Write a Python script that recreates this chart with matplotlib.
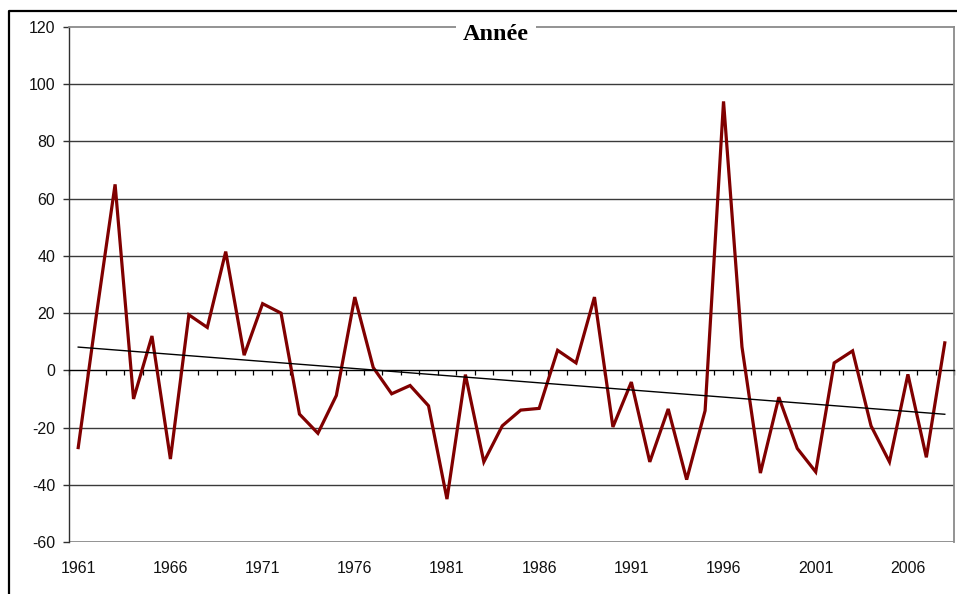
import numpy as np
import matplotlib
matplotlib.use("Agg")
import matplotlib.pyplot as plt
from matplotlib.lines import Line2D

years = list(range(1961, 2009))
values = [
    -27, 20, 65, -10, 12, -31, 19.4, 15, 41.5, 5.3,
    23.3, 20, -15.3, -22, -8.8, 25.6, 1, -8.2, -5.3, -12.4,
    -45, -1.5, -32, -19.4, -13.9, -13.3, 7, 2.6, 25.6, -19.8,
    -4.1, -32, -13.5, -38.2, -14.1, 94, 8.2, -35.9, -9.4, -27.3,
    -35.5, 2.6, 6.8, -19.4, -32, -1.4, -30.4, 9.6,
]
label_years = [1961, 1966, 1971, 1976, 1981, 1986, 1991, 1996, 2001, 2006]
y_ticks = list(range(-60, 121, 20))
title = "Année"

W, H = 957, 594
fig = plt.figure(figsize=(W / 100, H / 100), dpi=100)
fig.patch.set_facecolor("white")

L, R, T, B = 69, 954, 27, 542
ax = fig.add_axes([L / W, 1 - B / H, (R - L) / W, (B - T) / H])

x = np.arange(len(years))
ax.set_xlim(-0.5, len(years) - 0.5)
ax.set_ylim(-60, 120)

# horizontal gridlines
for v in y_ticks:
    if v in (-60, 0, 120):
        continue
    ax.axhline(v, color="#3a3a3a", lw=1.0, zorder=1)
ax.axhline(-60, color="#8a8a8a", lw=1.3, zorder=1)

# series and linear trend
ax.plot(x, values, color="#800000", lw=2.3, solid_joinstyle="miter", zorder=4)
coef = np.polyfit(x, values, 1)
ax.plot(x, np.polyval(coef, x), color="black", lw=1.0, zorder=5)

# spines
ax.spines["left"].set_color("#303030")
ax.spines["left"].set_linewidth(1.0)
for s in ("top", "right"):
    ax.spines[s].set_color("#8a8a8a")
    ax.spines[s].set_linewidth(1.3)
ax.spines["bottom"].set_position(("data", 0))
ax.spines["bottom"].set_color("black")
ax.spines["bottom"].set_linewidth(1.0)
ax.spines["bottom"].set_zorder(3)

# category ticks on the zero axis
ax.set_xticks(np.arange(-0.5, len(years), 1.0))
ax.set_xticklabels([])
ax.tick_params(axis="x", direction="out", length=3.5, width=0.9, color="black")

ax.set_yticks(y_ticks)
ax.set_yticklabels([str(v) for v in y_ticks], fontfamily="Liberation Sans",
                   fontsize=11.5, color="#111111")
ax.tick_params(axis="y", direction="out", length=4, width=1.0, color="#303030", pad=6)

# year labels along the bottom
sec = ax.secondary_xaxis("bottom")
sec.spines["bottom"].set_visible(False)
sec.set_xticks([years.index(yv) for yv in label_years])
sec.set_xticklabels([str(yv) for yv in label_years], fontfamily="Liberation Sans",
                    fontsize=11.5, color="#111111")
sec.tick_params(axis="x", length=0, pad=13.5)

ax.text(0.4825, 0.986, title, transform=ax.transAxes, ha="center", va="center",
        fontfamily="Liberation Serif", fontweight="bold", fontsize=17.5,
        bbox=dict(facecolor="white", edgecolor="none", pad=5), zorder=6,
        clip_on=False)

# outer chart frame
fig.add_artist(Line2D([9 / W, 9 / W, 1.01], [-0.01, 1 - 11 / H, 1 - 11 / H],
                      transform=fig.transFigure, color="black", lw=1.6))

fig.savefig("out.png", dpi=100, facecolor="white")
